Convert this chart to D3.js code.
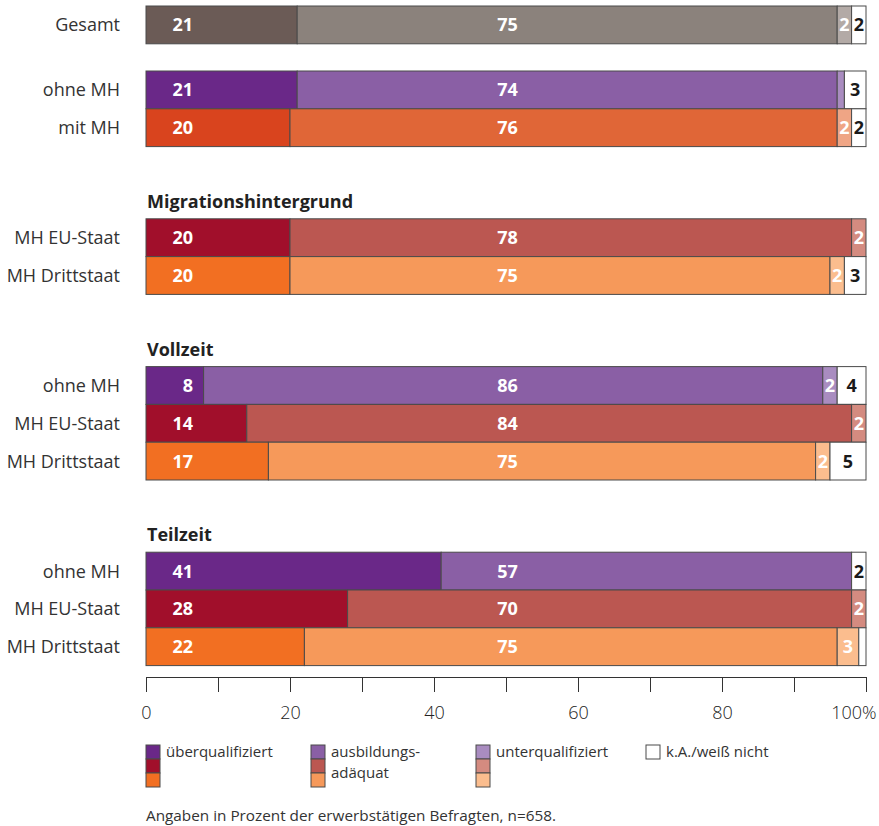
<!DOCTYPE html>
<html>
<head>
<meta charset="utf-8">
<script src="https://cdn.jsdelivr.net/npm/d3@7"></script>
<style>
  body { margin: 0; background: #fff; }
  svg { display: block; font-family: "Open Sans", "Noto Sans", sans-serif; }
</style>
</head>
<body>
<svg id="chart" width="879" height="826"></svg>
<script>
// ---------- data ----------
const categories = ["Gesamt", "ohne MH", "mit MH", "MH EU-Staat", "MH Drittstaat",
  "ohne MH", "MH EU-Staat", "MH Drittstaat", "ohne MH", "MH EU-Staat", "MH Drittstaat"];
const rowTypes = ["gesamt", "ohne", "mit", "eu", "dritt", "ohne", "eu", "dritt", "ohne", "eu", "dritt"];
const groupHeaders = [null, null, "Migrationshintergrund", "Vollzeit", "Teilzeit"];
const groupSizes = [1, 2, 2, 3, 3];

// bar lengths (percent)
const ueber    = [21, 21, 20, 20, 20, 8, 14, 17, 41, 28, 22];
const adaequat = [75, 75, 76, 78, 75, 86, 84, 76, 57, 70, 74];
const unter    = [2, 1, 2, 2, 2, 2, 2, 2, 0, 2, 3];
const kaWeiss  = [2, 3, 2, 0, 3, 4, 0, 5, 2, 0, 1];

// printed labels
const ueberLabels    = [21, 21, 20, 20, 20, 8, 14, 17, 41, 28, 22];
const adaequatLabels = [75, 74, 76, 78, 75, 86, 84, 75, 57, 70, 75];
const unterLabels    = [2, null, 2, 2, 2, 2, 2, 2, null, 2, 3];
const kaLabels       = [2, 3, 2, null, 3, 4, null, 5, 2, null, null];

const xTicks = [0, 20, 40, 60, 80, 100];
const legendLabels = [["überqualifiziert"], ["ausbildungs-", "adäquat"], ["unterqualifiziert"], ["k.A./weiß nicht"]];
const footnote = "Angaben in Prozent der erwerbstätigen Befragten, n=658.";

// ---------- styles ----------
const palette = {
  gesamt: ["#6b5b56", "#8b827c", "#b3aaa6"],
  ohne:   ["#6a2888", "#8a5fa5", "#a98cc0"],
  mit:    ["#d9441e", "#e06637", "#efa585"],
  eu:     ["#a10f2b", "#bb5751", "#d48b80"],
  dritt:  ["#f26f22", "#f6995a", "#fbbd8e"]
};
const strokeCol = "#4a4a4a";
const textCol = "#333333";

const svg = d3.select("#chart");
const x = d3.scaleLinear().domain([0, 100]).range([146, 866]);

// ---------- vertical layout ----------
const rowH = 37.8;
const rowTops = [];
const headerPos = [];
let y = 6, r = 0;
groupSizes.forEach((n, g) => {
  if (g > 0) y += 27.2 + (groupHeaders[g] ? 45 : 0);
  if (groupHeaders[g]) headerPos.push({ text: groupHeaders[g], y: y - 11 });
  for (let k = 0; k < n; k++) { rowTops[r++] = y; y += rowH; }
});

// headers
svg.selectAll("text.header").data(headerPos).join("text")
  .attr("class", "header")
  .attr("x", 147).attr("y", d => d.y)
  .attr("font-size", 18).attr("font-weight", 700).attr("fill", "#222")
  .text(d => d.text);

// category labels
svg.selectAll("text.cat").data(categories).join("text")
  .attr("class", "cat")
  .attr("x", 120).attr("y", (d, i) => rowTops[i] + rowH / 2)
  .attr("dy", "0.36em").attr("text-anchor", "end")
  .attr("font-size", 18).attr("fill", textCol)
  .text(d => d);

// segments
const rows = categories.map((c, i) => {
  const vals = [ueber[i], adaequat[i], unter[i], kaWeiss[i]];
  const labs = [ueberLabels[i], adaequatLabels[i], unterLabels[i], kaLabels[i]];
  let acc = 0;
  return vals.map((v, k) => {
    const s = { k, x0: acc, x1: acc + v, label: labs[k], row: i };
    acc += v;
    return s;
  });
});

const g = svg.append("g");
rows.forEach((segs, i) => {
  const pal = palette[rowTypes[i]];
  const rg = g.append("g");
  rg.selectAll("rect").data(segs.filter(s => s.x1 > s.x0)).join("rect")
    .attr("x", s => x(s.x0)).attr("y", rowTops[i])
    .attr("width", s => x(s.x1) - x(s.x0)).attr("height", rowH)
    .attr("fill", s => s.k < 3 ? pal[s.k] : "#ffffff")
    .attr("stroke", strokeCol).attr("stroke-width", 1);
  rg.selectAll("text").data(segs.filter(s => s.label != null)).join("text")
    .attr("x", s => s.k === 0 ? x(0) + 47 : s.k === 1 ? x(50.2) : x((s.x0 + s.x1) / 2))
    .attr("y", rowTops[i] + rowH / 2).attr("dy", "0.36em")
    .attr("text-anchor", s => s.k === 0 ? "end" : "middle")
    .attr("font-size", 18).attr("font-weight", 700)
    .attr("fill", s => s.k === 3 ? "#1a1a1a" : "#ffffff")
    .text(s => s.label);
});

// axis
const axisY = 677;
const axis = d3.axisBottom(x).tickValues(d3.range(0, 101, 10)).tickSize(15)
  .tickFormat(d => xTicks.includes(d) ? (d === 100 ? "100%" : d) : "");
const ag = svg.append("g").attr("transform", `translate(0,${axisY})`).call(axis);
ag.select(".domain").attr("stroke", textCol).attr("d", `M${x(0)},0.5H${x(100)}`);
ag.selectAll(".tick line").attr("stroke", textCol);
ag.selectAll(".tick text").attr("fill", "#222").attr("font-size", 18).attr("font-weight", 300)
  .attr("y", 36).attr("dy", "0.36em").attr("font-family", "'Open Sans', sans-serif");
ag.selectAll(".tick").filter(d => d === 100).select("text").attr("text-anchor", "end").attr("x", 10);

// legend
const legendX = [146, 311, 476, 646];
const legendColors = [
  [palette.ohne[0], palette.eu[0], palette.dritt[0]],
  [palette.ohne[1], palette.eu[1], palette.dritt[1]],
  [palette.ohne[2], palette.eu[2], palette.dritt[2]],
  ["#ffffff"]
];
const lg = svg.append("g");
legendLabels.forEach((lines, j) => {
  const cols = legendColors[j];
  lg.selectAll(null).data(cols).join("rect")
    .attr("x", legendX[j]).attr("y", (d, k) => 745 + k * 14)
    .attr("width", 14).attr("height", 14)
    .attr("fill", d => d).attr("stroke", strokeCol).attr("stroke-width", 1);
  lg.selectAll(null).data(lines).join("text")
    .attr("x", legendX[j] + 20).attr("y", (d, k) => 752 + k * 21).attr("dy", "0.36em")
    .attr("font-size", 15).attr("fill", textCol)
    .text(d => d);
});

// footnote
svg.append("text").attr("x", 146).attr("y", 821)
  .attr("font-size", 15.3).attr("fill", textCol).text(footnote);
</script>
</body>
</html>
